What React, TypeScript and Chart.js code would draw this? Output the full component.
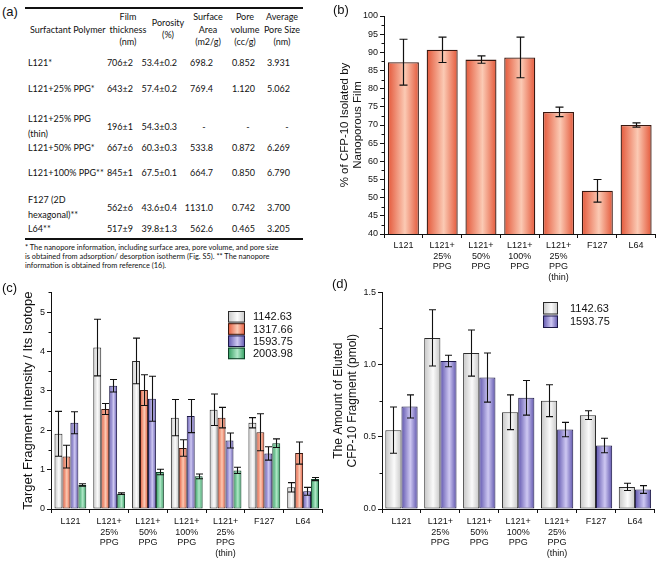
import React, { useEffect, useRef } from 'react';
import { Chart, registerables } from 'chart.js';

Chart.register(...registerables);

const FONT = '"Liberation Sans", Arial, Helvetica, sans-serif';
const TFONT = 'Lato, "Open Sans", sans-serif';
const INK = '#111111';

// ---------------- DATA ----------------
const CATEGORIES: (string | string[])[] = [
  'L121',
  ['L121+', '25%', 'PPG'],
  ['L121+', '50%', 'PPG'],
  ['L121+', '100%', 'PPG'],
  ['L121+', '25%', 'PPG', '(thin)'],
  'F127',
  'L64',
];

// (b) % of CFP-10 isolated by nanoporous film
const ISOLATED = [87.3, 90.7, 88.0, 88.6, 73.6, 51.9, 70.0];
const ISOLATED_ERR = [6.3, 3.5, 1.0, 5.6, 1.3, 3.1, 0.6];
const B_TITLE = ['% of CFP-10 Isolated by', 'Nanoporous Film'];

// (c) Target fragment intensity / its isotope
const C_SERIES = ['1142.63', '1317.66', '1593.75', '2003.98'];
const C_1142 = [1.91, 4.10, 3.76, 2.32, 2.52, 2.19, 0.55];
const C_1142_ERR = [0.57, 0.72, 0.58, 0.46, 0.40, 0.13, 0.12];
const C_1317 = [1.33, 2.54, 3.02, 1.55, 2.32, 1.95, 1.42];
const C_1317_ERR = [0.29, 0.14, 0.39, 0.21, 0.26, 0.47, 0.28];
const C_1593 = [2.19, 3.13, 2.80, 2.36, 1.74, 1.41, 0.45];
const C_1593_ERR = [0.28, 0.16, 0.57, 0.42, 0.19, 0.17, 0.10];
const C_2003 = [0.61, 0.39, 0.94, 0.83, 0.98, 1.67, 0.76];
const C_2003_ERR = [0.03, 0.02, 0.07, 0.06, 0.08, 0.11, 0.04];
const C_TITLE = 'Target Fragment Intensity / Its Isotope';

// (d) Amount of eluted CFP-10 fragment (pmol)
const D_SERIES = ['1142.63', '1593.75'];
const D_1142 = [0.546, 1.185, 1.08, 0.67, 0.75, 0.65, 0.153];
const D_1142_ERR = [0.16, 0.195, 0.16, 0.12, 0.11, 0.03, 0.025];
const D_1593 = [0.71, 1.025, 0.91, 0.77, 0.55, 0.44, 0.135];
const D_1593_ERR = [0.08, 0.04, 0.17, 0.12, 0.05, 0.05, 0.027];
const D_TITLE = ['The Amount of Eluted', 'CFP-10 Fragment (pmol)'];

// (a) table
const TABLE_HEAD_FIRST = 'Surfactant Polymer';
const TABLE_HEADERS = [
  ['Film', 'thickness', '(nm)'],
  ['Porosity', '(%)'],
  ['Surface', 'Area', '(m2/g)'],
  ['Pore', 'volume', '(cc/g)'],
  ['Average', 'Pore Size', '(nm)'],
];
const TABLE_POLYMERS = [
  ['L121*'],
  ['L121+25% PPG*'],
  ['L121+25% PPG', '(thin)'],
  ['L121+50% PPG*'],
  ['L121+100% PPG**'],
  ['F127 (2D', 'hexagonal)**'],
  ['L64**'],
];
const TABLE_THICKNESS = ['706±2', '643±2', '196±1', '667±6', '845±1', '562±6', '517±9'];
const TABLE_POROSITY = ['53.4±0.2', '57.4±0.2', '54.3±0.3', '60.3±0.3', '67.5±0.1', '43.6±0.4', '39.8±1.3'];
const TABLE_AREA = ['698.2', '769.4', '-', '533.8', '664.7', '1131.0', '562.6'];
const TABLE_VOLUME = ['0.852', '1.120', '-', '0.872', '0.850', '0.742', '0.465'];
const TABLE_PORE = ['3.931', '5.062', '-', '6.269', '6.790', '3.700', '3.205'];
const FOOTNOTE = [
  '* The nanopore information, including surface area, pore volume, and pore size',
  'is obtained from adsorption/ desorption isotherm (Fig. S5). ** The nanopore',
  'information is obtained from reference (16).',
];

// ---------------- STYLES ----------------
type Fill = { edge: string; mid: string; border: string };
const ORANGE: Fill = { edge: '#e4583a', mid: '#fbcab4', border: '#3a1810' };
const GREY: Fill = { edge: '#c6c6c6', mid: '#fbfbfb', border: '#2a2a2a' };
const BLUE: Fill = { edge: '#5e54ad', mid: '#cec8f2', border: '#1c1846' };
const GREEN: Fill = { edge: '#2f9c5e', mid: '#b0e8c8', border: '#0e3e26' };

function makeGrad(ctx: CanvasRenderingContext2D, x0: number, x1: number, f: Fill) {
  const g = ctx.createLinearGradient(x0, 0, x1, 0);
  g.addColorStop(0, f.edge);
  g.addColorStop(0.55, f.mid);
  g.addColorStop(1, f.edge);
  return g;
}

// ---------------- PLUGINS ----------------
const gradientPlugin = {
  id: 'barGradient',
  beforeDatasetsDraw(chart: any, _a: any, opts: any) {
    if (!opts || !opts.fills) return;
    const ctx = chart.ctx;
    chart.data.datasets.forEach((_ds: any, i: number) => {
      const meta = chart.getDatasetMeta(i);
      const f: Fill = opts.fills[i];
      meta.data.forEach((el: any) => {
        const x = el.x;
        const w = el.width;
        el.options = Object.assign({}, el.options, { backgroundColor: makeGrad(ctx, x - w / 2, x + w / 2, f) });
      });
    });
  },
};

const errorBarPlugin = {
  id: 'errorBars',
  afterDatasetsDraw(chart: any, _a: any, opts: any) {
    if (!opts || !opts.errors) return;
    const ctx = chart.ctx;
    const ys = chart.scales.y;
    ctx.save();
    ctx.strokeStyle = INK;
    ctx.lineWidth = opts.lineWidth || 1.2;
    chart.data.datasets.forEach((ds: any, i: number) => {
      const errs = opts.errors[i];
      const meta = chart.getDatasetMeta(i);
      meta.data.forEach((el: any, j: number) => {
        const v = ds.data[j];
        const e = errs[j];
        const x = Math.round(el.x) + 0.5;
        const yT = ys.getPixelForValue(v + e);
        const yB = ys.getPixelForValue(v - e);
        const c = opts.cap / 2;
        ctx.beginPath();
        ctx.moveTo(x, yT);
        ctx.lineTo(x, yB);
        ctx.moveTo(x - c, yT);
        ctx.lineTo(x + c, yT);
        ctx.moveTo(x - c, yB);
        ctx.lineTo(x + c, yB);
        ctx.stroke();
      });
    });
    ctx.restore();
  },
};

const minorTickPlugin = {
  id: 'minorTicks',
  afterDraw(chart: any, _a: any, opts: any) {
    if (!opts || !opts.majorEvery) return;
    const s = chart.scales.y;
    const ctx = chart.ctx;
    ctx.save();
    ctx.strokeStyle = INK;
    ctx.lineWidth = 1;
    s.ticks.forEach((t: any) => {
      const r = t.value / opts.majorEvery;
      if (Math.abs(r - Math.round(r)) > 1e-6) {
        const y = Math.round(s.getPixelForValue(t.value)) + 0.5;
        ctx.beginPath();
        ctx.moveTo(s.right - opts.length, y);
        ctx.lineTo(s.right, y);
        ctx.stroke();
      }
    });
    ctx.restore();
  },
};

const boxLegendPlugin = {
  id: 'boxLegend',
  afterDraw(chart: any, _a: any, o: any) {
    if (!o || !o.labels) return;
    const ctx = chart.ctx;
    ctx.save();
    o.labels.forEach((lab: string, i: number) => {
      const y = o.y + i * (o.boxH + o.gap);
      const f: Fill = o.fills[i];
      ctx.fillStyle = makeGrad(ctx, o.x, o.x + o.boxW, f);
      ctx.fillRect(o.x, y, o.boxW, o.boxH);
      ctx.strokeStyle = f.border;
      ctx.lineWidth = 1;
      ctx.strokeRect(o.x + 0.5, y + 0.5, o.boxW - 1, o.boxH - 1);
      ctx.fillStyle = INK;
      ctx.font = `${o.fontSize}px ${FONT}`;
      ctx.textBaseline = 'middle';
      ctx.textAlign = 'left';
      ctx.fillText(lab, o.textX, y + o.boxH / 2 + 0.5);
    });
    ctx.restore();
  },
};

// ---------------- AXES ----------------
function makeXAxis(height: number, pad: number, size: number) {
  return {
    type: 'category',
    offset: true,
    border: { display: true, color: INK, width: 1 },
    grid: { drawOnChartArea: false, drawTicks: true, tickLength: 4, tickColor: INK, offset: true },
    ticks: {
      color: INK,
      font: { family: FONT, size, lineHeight: 1.2 },
      padding: pad,
      maxRotation: 0,
      minRotation: 0,
      autoSkip: false,
    },
    afterFit: (s: any) => {
      s.height = height;
    },
  };
}

function makeYAxis(o: {
  min: number;
  max: number;
  step: number;
  majorEvery: number;
  decimals: number;
  width: number;
  title: string | string[];
  titleSize: number;
  titleLH: number;
  titlePad: number;
  tickSize: number;
}) {
  const isMajor = (v: number) => Math.abs(v / o.majorEvery - Math.round(v / o.majorEvery)) < 1e-6;
  return {
    min: o.min,
    max: o.max,
    border: { display: true, color: INK, width: 1 },
    grid: {
      drawOnChartArea: false,
      drawTicks: true,
      tickLength: 4,
      tickColor: (c: any) => (c.tick && isMajor(c.tick.value) ? INK : 'rgba(0,0,0,0)'),
    },
    ticks: {
      stepSize: o.step,
      autoSkip: false,
      padding: 2,
      color: INK,
      font: { family: FONT, size: o.tickSize },
      callback: (v: any) => (isMajor(Number(v)) ? Number(v).toFixed(o.decimals) : ''),
    },
    title: {
      display: true,
      text: o.title,
      color: INK,
      font: { family: FONT, size: o.titleSize, lineHeight: o.titleLH },
      padding: { top: o.titlePad, bottom: 0 },
    },
    afterFit: (s: any) => {
      s.width = o.width;
    },
  };
}

const BASE_OPTS = {
  responsive: false,
  maintainAspectRatio: false,
  animation: false,
  devicePixelRatio: 1,
  events: [],
};

function makeB() {
  return {
    type: 'bar',
    data: {
      labels: CATEGORIES,
      datasets: [
        {
          label: 'Isolated',
          data: ISOLATED,
          backgroundColor: ORANGE.mid,
          borderColor: ORANGE.border,
          borderWidth: 1.3,
          borderSkipped: false,
          barPercentage: 0.8,
          categoryPercentage: 1,
        },
      ],
    },
    options: {
      ...BASE_OPTS,
      layout: { padding: { top: 16, right: 0.5, left: 0, bottom: 0 } },
      plugins: {
        legend: { display: false },
        tooltip: { enabled: false },
        barGradient: { fills: [ORANGE] },
        errorBars: { errors: [ISOLATED_ERR], cap: 8, lineWidth: 1.2 },
        minorTicks: { majorEvery: 5, length: 2.5 },
      },
      scales: {
        x: makeXAxis(56, 2, 9),
        y: makeYAxis({
          min: 40,
          max: 100,
          step: 2.5,
          majorEvery: 5,
          decimals: 0,
          width: 54,
          title: B_TITLE,
          titleSize: 11.5,
          titleLH: 1.13,
          titlePad: 8,
          tickSize: 9,
        }),
      },
    },
    plugins: [gradientPlugin, errorBarPlugin, minorTickPlugin],
  };
}

function makeC() {
  const fills = [GREY, ORANGE, BLUE, GREEN];
  const vals = [C_1142, C_1317, C_1593, C_2003];
  return {
    type: 'bar',
    data: {
      labels: CATEGORIES,
      datasets: vals.map((d, i) => ({
        label: C_SERIES[i],
        data: d,
        backgroundColor: fills[i].mid,
        borderColor: fills[i].border,
        borderWidth: 1,
        borderSkipped: false,
        barPercentage: 1,
        categoryPercentage: 0.82,
      })),
    },
    options: {
      ...BASE_OPTS,
      layout: { padding: { top: 5, right: 7.5, left: 0, bottom: 0 } },
      plugins: {
        legend: { display: false },
        tooltip: { enabled: false },
        barGradient: { fills },
        errorBars: { errors: [C_1142_ERR, C_1317_ERR, C_1593_ERR, C_2003_ERR], cap: 7, lineWidth: 1.1 },
        minorTicks: { majorEvery: 1, length: 2.5 },
        boxLegend: { labels: C_SERIES, fills, x: 228, y: 26, boxW: 17, boxH: 11.6, gap: 0.6, textX: 253, fontSize: 11 },
      },
      scales: {
        x: makeXAxis(53, 3, 9),
        y: makeYAxis({
          min: 0,
          max: 5.5,
          step: 0.5,
          majorEvery: 1,
          decimals: 0,
          width: 51,
          title: C_TITLE,
          titleSize: 13,
          titleLH: 1.15,
          titlePad: 21,
          tickSize: 9,
        }),
      },
    },
    plugins: [gradientPlugin, errorBarPlugin, minorTickPlugin, boxLegendPlugin],
  };
}

function makeD() {
  const fills = [GREY, BLUE];
  const vals = [D_1142, D_1593];
  return {
    type: 'bar',
    data: {
      labels: CATEGORIES,
      datasets: vals.map((d, i) => ({
        label: D_SERIES[i],
        data: d,
        backgroundColor: fills[i].mid,
        borderColor: fills[i].border,
        borderWidth: 1,
        borderSkipped: false,
        barPercentage: 1,
        categoryPercentage: 0.83,
      })),
    },
    options: {
      ...BASE_OPTS,
      layout: { padding: { top: 5, right: 1.6, left: 0, bottom: 0 } },
      plugins: {
        legend: { display: false },
        tooltip: { enabled: false },
        barGradient: { fills },
        errorBars: { errors: [D_1142_ERR, D_1593_ERR], cap: 7, lineWidth: 1.1 },
        minorTicks: { majorEvery: 0.5, length: 2.5 },
        boxLegend: { labels: D_SERIES, fills, x: 213, y: 17, boxW: 15, boxH: 12.5, gap: 1, textX: 240, fontSize: 11 },
      },
      scales: {
        x: makeXAxis(53, 3, 9),
        y: makeYAxis({
          min: 0,
          max: 1.5,
          step: 0.25,
          majorEvery: 0.5,
          decimals: 1,
          width: 52,
          title: D_TITLE,
          titleSize: 12,
          titleLH: 1.17,
          titlePad: 2,
          tickSize: 9,
        }),
      },
    },
    plugins: [gradientPlugin, errorBarPlugin, minorTickPlugin, boxLegendPlugin],
  };
}

// ---------------- COMPONENTS ----------------
function ChartCanvas(props: { left: number; top: number; width: number; height: number; make: () => any }) {
  const ref = useRef<HTMLCanvasElement>(null);
  useEffect(() => {
    const chart = new Chart(ref.current as HTMLCanvasElement, props.make());
    return () => chart.destroy();
  }, []);
  return (
    <canvas
      ref={ref}
      width={props.width}
      height={props.height}
      style={{ position: 'absolute', left: props.left, top: props.top, width: props.width, height: props.height }}
    />
  );
}

function T(props: { x: number; y: number; a?: 'l' | 'c' | 'r'; s?: number; f?: string; children: React.ReactNode }) {
  const a = props.a || 'l';
  const tx = a === 'l' ? '0' : a === 'c' ? '-50%' : '-100%';
  return (
    <div
      style={{
        position: 'absolute',
        left: props.x,
        top: props.y,
        transform: `translate(${tx},-50%)`,
        fontSize: props.s || 9,
        fontFamily: props.f || TFONT,
        lineHeight: 1,
        whiteSpace: 'nowrap',
        color: INK,
      }}
    >
      {props.children}
    </div>
  );
}

const ROW_Y = [62, 88, 125.5, 147, 172, 206.5, 228];
const COL_RIGHT = [133, 177, 213, 255, 290];
const DASH_X = [204, 248, 287];
const HEAD_X = [128, 168, 208, 245, 282];

function TablePanel() {
  const cols = [TABLE_THICKNESS, TABLE_POROSITY, TABLE_AREA, TABLE_VOLUME, TABLE_PORE];
  const out: React.ReactNode[] = [];
  out.push(<div key="top" style={{ position: 'absolute', left: 25, top: 7, width: 278, height: 1.6, background: '#111' }} />);
  out.push(<div key="bot" style={{ position: 'absolute', left: 25, top: 238, width: 278, height: 1.6, background: '#111' }} />);
  out.push(
    <T key="h0" x={30} y={29}>
      {TABLE_HEAD_FIRST}
    </T>
  );
  TABLE_HEADERS.forEach((lines, ci) => {
    const n = lines.length;
    const spacing = 12.5;
    const cy = n === 3 ? 28.5 : 28;
    lines.forEach((ln, li) => {
      out.push(
        <T key={`h${ci}-${li}`} x={HEAD_X[ci]} y={cy + (li - (n - 1) / 2) * spacing} a="c">
          {ln}
        </T>
      );
    });
  });
  TABLE_POLYMERS.forEach((lines, ri) => {
    const n = lines.length;
    lines.forEach((ln, li) => {
      out.push(
        <T key={`p${ri}-${li}`} x={28} y={ROW_Y[ri] + (li - (n - 1) / 2) * 15}>
          {ln}
        </T>
      );
    });
    cols.forEach((col, ci) => {
      const v = col[ri];
      if (v === '-') {
        out.push(
          <T key={`v${ri}-${ci}`} x={DASH_X[ci - 2]} y={ROW_Y[ri]} a="c">
            {v}
          </T>
        );
      } else {
        out.push(
          <T key={`v${ri}-${ci}`} x={COL_RIGHT[ci]} y={ROW_Y[ri]} a="r">
            {v}
          </T>
        );
      }
    });
  });
  FOOTNOTE.forEach((ln, i) => {
    out.push(
      <T key={`f${i}`} x={25} y={247.5 + i * 9} s={7.4}>
        {ln}
      </T>
    );
  });
  return <>{out}</>;
}

export default function App() {
  return (
    <div
      style={{
        position: 'fixed',
        left: 0,
        top: 0,
        width: 656,
        height: 562,
        background: '#ffffff',
        overflow: 'hidden',
      }}
    >
      <TablePanel />
      <ChartCanvas left={330} top={0} width={326} height={290} make={makeB} />
      <ChartCanvas left={0} top={285} width={330} height={277} make={makeC} />
      <ChartCanvas left={330} top={285} width={326} height={277} make={makeD} />
      <T x={2} y={11} s={13} f={FONT}>
        (a)
      </T>
      <T x={333} y={9} s={13} f={FONT}>
        (b)
      </T>
      <T x={2} y={287} s={13} f={FONT}>
        (c)
      </T>
      <T x={332} y={283} s={13} f={FONT}>
        (d)
      </T>
    </div>
  );
}
